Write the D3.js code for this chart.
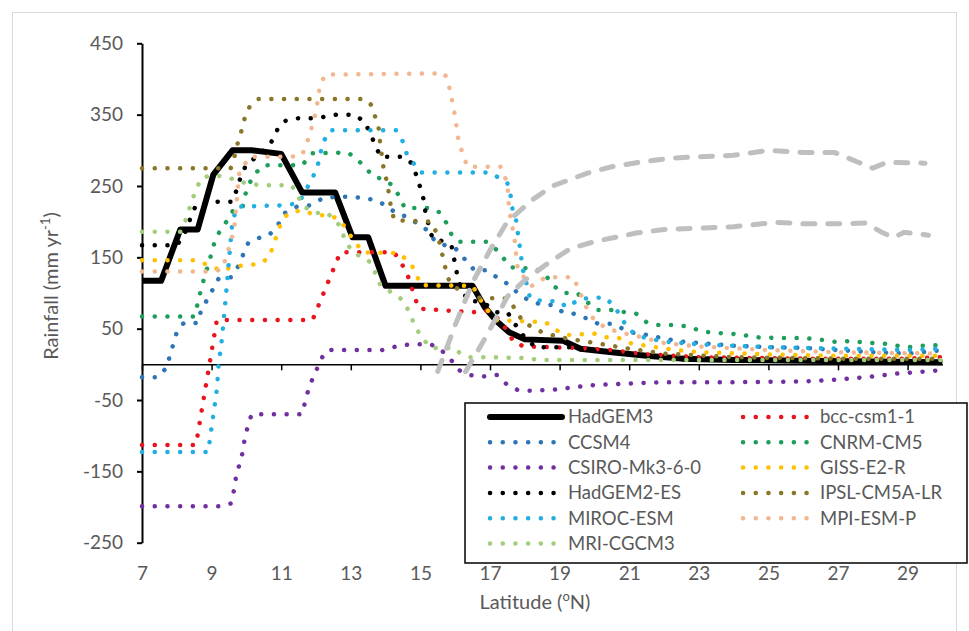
<!DOCTYPE html>
<html><head><meta charset="utf-8">
<script src="https://cdn.jsdelivr.net/npm/d3@7"></script>
<style>
html,body{margin:0;padding:0;background:#fff;}
svg{display:block;font-family:Lato,"Open Sans",sans-serif;}
</style></head>
<body>
<svg id="chart" width="969" height="631"></svg>
<script>
// ---------- data (latitude °N, rainfall mm/yr) ----------
const xTicks = [7,9,11,13,15,17,19,21,23,25,27,29];
const yTicks = [-250,-150,-50,50,150,250,350,450];

const HadGEM3 = [[7,117],[7.55,117],[8.1,189],[8.6,189],[9.05,266],[9.6,300],[10.15,300],[11.0,295],[11.6,241],[12.55,241],[13.05,178],[13.5,178],[14.0,110],[16.5,110],[16.85,80],[17.2,60],[17.55,45],[18.0,35],[19.1,33],[19.6,22],[20.5,17],[21.5,12],[22.5,8],[24,6],[26,5],[28,4],[30,3]];
const bcc = [[7,-113],[8.55,-113],[9.15,62],[11.9,62],[12.7,157],[14.25,157],[14.6,130],[14.95,78],[16.5,73],[16.9,75],[17.3,62],[17.7,30],[18,25],[19.5,23],[20.5,20],[21.5,14],[23,10],[26,8],[29,8],[30,10]];
const CCSM4 = [[7,-18],[7.45,-18],[7.7,-5],[8.0,45],[8.2,58],[8.6,58],[8.7,76],[8.9,93],[9.2,120],[9.55,122],[9.75,136],[9.9,153],[10.05,170],[10.35,177],[10.65,181],[10.9,195],[11.1,212],[11.45,221],[11.85,223],[12.2,233],[12.6,235],[13.0,235],[13.4,233],[13.7,230],[14.0,223],[14.3,212],[14.6,207],[14.9,198],[15.2,188],[15.4,174],[15.7,167],[16.0,163],[16.3,146],[16.55,132],[16.9,132],[17.2,122],[17.5,113],[17.8,100],[18.1,90],[18.4,85],[18.8,83],[19.1,73],[19.4,71],[19.8,64],[20.1,57],[20.5,57],[20.9,48],[21.2,43],[21.6,41],[21.9,37],[22.5,32],[23,30],[24,26],[25,24],[26,23],[27,20],[28,17],[29,15],[30,20]];
const CNRM = [[7,67],[8.5,67],[8.6,85],[8.7,106],[8.8,123],[8.9,139],[9.0,156],[9.1,174],[9.25,188],[9.5,205],[9.65,219],[9.9,222],[10.0,244],[10.2,265],[10.5,279],[11.6,279],[11.9,296],[12.9,297],[13.1,291],[13.4,277],[13.65,263],[13.9,260],[14.2,251],[14.4,235],[14.55,219],[15.3,219],[15.55,213],[15.75,198],[15.9,181],[16.1,172],[16.9,172],[17.2,160],[17.6,136],[18.3,134],[18.6,125],[18.8,111],[19.1,100],[19.5,100],[19.8,87],[20.1,76],[20.5,76],[20.9,73],[21.2,71],[21.5,59],[21.8,55],[22.3,55],[22.7,53],[23.1,46],[23.5,44],[24.2,42],[24.6,38],[25.2,37],[26.0,37],[26.6,34],[27.0,31],[27.4,33],[27.8,30],[28.2,30],[28.6,27],[29.0,24],[29.4,26],[30,27]];
const CSIRO = [[7,-199],[9.3,-199],[9.55,-195],[9.65,-175],[9.7,-158],[9.8,-140],[9.9,-122],[9.95,-104],[10.05,-85],[10.15,-70],[11.6,-70],[11.7,-50],[11.8,-32],[11.95,-15],[12.1,2],[12.25,17],[12.4,20],[13.9,20],[14.3,25],[14.7,28],[15.3,28],[15.6,20],[15.9,5],[16.1,-8],[16.4,-15],[16.8,-17],[17.2,-15],[17.5,-29],[17.8,-36],[18.2,-37],[19,-35],[19.4,-32],[20,-29],[21,-27],[22,-25],[24,-25],[26,-24],[26.8,-22],[27.8,-18],[28.7,-13],[29.5,-10],[30,-8]];
const GISS = [[7,146],[8.55,146],[8.9,139],[9.3,131],[9.6,137],[10.0,139],[10.4,141],[10.65,150],[10.8,170],[10.9,186],[11.05,204],[11.25,213],[11.6,216],[12,209],[12.4,209],[12.7,202],[12.95,183],[13.15,170],[13.35,157],[14.4,156],[14.75,139],[14.9,125],[15.0,111],[16.5,110],[16.85,80],[17.2,62],[18.6,59],[18.9,48],[19.2,41],[20.0,43],[20.3,38],[20.7,37],[21.0,30],[22,22],[23,17],[25,14],[27,12],[30,12]];
const HadGEM2 = [[7,167],[8.0,167],[8.2,180],[8.4,206],[8.55,223],[8.9,228],[9.6,228],[9.75,249],[9.85,265],[10.0,280],[10.4,295],[10.7,310],[10.9,330],[11.1,341],[11.5,345],[12.0,345],[12.6,350],[13.1,350],[13.4,340],[13.55,324],[13.7,308],[13.85,291],[14.5,291],[14.75,282],[14.9,263],[15.0,247],[15.1,230],[15.15,211],[15.25,193],[15.35,176],[15.7,172],[15.9,165],[16.0,140],[16.1,115],[16.35,90],[16.8,87],[17.0,80],[17.2,73],[17.5,73],[17.9,43],[18.3,24],[19.4,24],[19.7,20],[20.5,17],[21.5,12],[23,8],[25,6],[28,4],[30,3]];
const IPSL = [[7,275],[9.55,275],[9.65,290],[9.75,310],[9.85,326],[9.95,345],[10.1,362],[10.35,372],[13.4,372],[13.6,363],[13.8,331],[13.85,307],[13.95,272],[14.05,254],[14.15,221],[14.25,202],[15.3,200],[15.5,181],[15.6,160],[15.75,128],[15.85,114],[16.2,101],[16.4,94],[17.5,92],[17.75,76],[17.95,59],[18.5,45],[19,38],[20,30],[21,22],[22,15],[24,10],[27,8],[30,8]];
const MIROC = [[7,-123],[8.9,-123],[9.15,-36],[9.2,-1],[9.3,37],[9.4,90],[9.5,146],[9.6,202],[9.75,221],[11.1,223],[11.5,226],[11.9,261],[12.05,279],[12.2,311],[12.4,328],[14.3,328],[14.5,312],[14.6,296],[14.8,282],[15.0,269],[17.0,269],[17.5,254],[17.6,235],[17.65,216],[17.75,202],[17.8,184],[17.85,167],[17.9,149],[17.95,132],[18.05,113],[18.15,93],[18.3,90],[19.0,88],[19.2,80],[19.6,92],[20.3,94],[20.6,80],[20.8,62],[21.1,45],[21.4,38],[22,32],[23,28],[25,24],[27,22],[29,20],[30,22]];
const MPI = [[7,130],[9.0,130],[9.3,133],[9.5,163],[9.65,190],[9.75,244],[9.8,270],[10.1,291],[11.3,291],[11.6,293],[11.8,319],[12.0,354],[12.1,387],[12.25,406],[15.7,408],[15.85,385],[16.0,347],[16.1,312],[16.25,291],[16.35,277],[17.3,277],[17.5,254],[17.55,216],[17.7,178],[17.8,132],[18.2,110],[18.6,122],[19.4,122],[19.8,76],[20.0,62],[20.3,52],[20.7,45],[21.2,40],[22,30],[23,25],[25,20],[27,17],[30,15]];
const MRI = [[7,186],[8.1,186],[8.3,207],[8.4,225],[8.55,244],[8.7,261],[9.0,265],[9.4,263],[9.9,255],[10.4,251],[11.3,251],[11.5,235],[11.6,223],[11.95,212],[12.3,213],[12.55,202],[12.7,193],[12.8,179],[12.95,165],[13.1,155],[13.4,150],[13.6,141],[13.75,122],[13.85,111],[14.5,90],[14.65,76],[14.8,59],[15.0,40],[15.3,23],[16.0,23],[16.1,17],[16.4,10],[17.0,10],[17.9,9],[18.5,6],[30,6]];
const greyUpper = [[15.5,-10],[16.0,55],[16.5,115],[17,160],[17.5,200],[18.2,230],[18.8,250],[19.8,268],[20.5,277],[21.4,284],[22.2,289],[23,291],[24,293],[25,300],[26,297],[26.9,297],[27.6,283],[28,275],[28.4,283],[29.5,282]];
const greyLower = [[16.3,-10],[16.9,40],[17.5,95],[18.0,118],[18.7,143],[19.3,162],[20.0,172],[20.5,177],[21.2,184],[22,189],[23,191],[24,193],[25.2,199],[26,197],[27,197],[27.8,198],[28.3,184],[28.6,178],[28.9,185],[29.6,181]];

const seriesNames = ["HadGEM3","bcc-csm1-1","CCSM4","CNRM-CM5","CSIRO-Mk3-6-0","GISS-E2-R","HadGEM2-ES","IPSL-CM5A-LR","MIROC-ESM","MPI-ESM-P","MRI-CGCM3"];
const seriesData = [HadGEM3,bcc,CCSM4,CNRM,CSIRO,GISS,HadGEM2,IPSL,MIROC,MPI,MRI];
const seriesColors = ["#000000","#E8141E","#2E75B6","#1F9E5B","#7030A0","#FFC000","#000000","#8A7628","#22AEE0","#F2B791","#A2CD7C"];

// ---------- drawing ----------
const svg = d3.select("#chart");
svg.append("rect").attr("x",12.5).attr("y",12.5).attr("width",944).attr("height",640)
  .attr("fill","#fff").attr("stroke","#D9D9D9").attr("stroke-width",1);

const x = d3.scaleLinear().domain([7,30]).range([142,942.4]);
const y = d3.scaleLinear().domain([-250,450]).range([542.7,43.3]);
const line = d3.line().x(d=>x(d[0])).y(d=>y(d[1]));
const fmt = d => String(d);

// y axis
const yAx = svg.append("g").attr("transform","translate(142,0)")
  .call(d3.axisLeft(y).tickValues(yTicks).tickSizeInner(5).tickSizeOuter(0).tickPadding(14).tickFormat(fmt));
yAx.select(".domain").attr("stroke","#000").attr("stroke-width",2);
yAx.selectAll(".tick line").attr("stroke","#000").attr("stroke-width",2);
yAx.selectAll("text").attr("fill","#595959").style("font-size","19px").style("font-family","Lato");

// zero line with ticks
const xAx = svg.append("g").attr("transform",`translate(0,${y(0)})`)
  .call(d3.axisBottom(x).tickValues(xTicks).tickSizeInner(6).tickSizeOuter(0).tickFormat(""));
xAx.select(".domain").attr("stroke","#000").attr("stroke-width",1.5);
xAx.selectAll(".tick line").attr("stroke","#000").attr("stroke-width",1.5);

// x tick labels at bottom
const xLab = svg.append("g").attr("transform","translate(0,573)")
  .call(d3.axisBottom(x).tickValues(xTicks).tickSize(0).tickPadding(0).tickFormat(fmt));
xLab.select(".domain").remove();
xLab.selectAll("text").attr("dy","0.35em").attr("fill","#595959").style("font-size","19px").style("font-family","Lato");

// axis titles
svg.append("text").attr("transform","translate(58,286) rotate(-90)")
  .attr("text-anchor","middle").attr("fill","#595959").style("font-size","20px")
  .call(t=>{ t.append("tspan").text("Rainfall (mm yr");
             t.append("tspan").attr("dy",-8).style("font-size","13px").text("-1");
             t.append("tspan").attr("dy",8).text(")"); });
svg.append("text").attr("x",535).attr("y",609).attr("text-anchor","middle")
  .attr("fill","#595959").style("font-size","20px")
  .call(t=>{ t.append("tspan").text("Latitude (");
             t.append("tspan").attr("dy",-8).style("font-size","13px").text("o");
             t.append("tspan").attr("dy",8).text("N)"); });

// series
const plot = svg.append("g");
seriesData.forEach((data,i)=>{
  const p = plot.append("path").datum(data).attr("d",line).attr("fill","none")
    .attr("stroke",seriesColors[i]).attr("stroke-linejoin","round");
  if(i===0){ p.attr("stroke-width",6); }
  else { p.attr("stroke-width",4.5).attr("stroke-linecap","round").attr("stroke-dasharray","0.1,12.6"); }
});
// grey dashed
[greyUpper,greyLower].forEach(data=>{
  plot.append("path").datum(data).attr("d",line).attr("fill","none")
    .attr("stroke","#BFBFBF").attr("stroke-width",5).attr("stroke-linecap","round")
    .attr("stroke-dasharray","12,13");
});

// legend
const lg = svg.append("g");
lg.append("rect").attr("x",465).attr("y",403).attr("width",502).attr("height",160)
  .attr("fill","#fff").attr("stroke","#000").attr("stroke-width",1.5);
seriesNames.forEach((n,i)=>{
  const col = i%2, row = Math.floor(i/2);
  const cy = 417 + row*25.3;
  const x0 = col===0 ? 490 : 743, x1 = col===0 ? 562 : 811, tx = col===0 ? 568 : 820;
  const l = lg.append("line").attr("x1",x0).attr("x2",x1).attr("y1",cy).attr("y2",cy)
    .attr("stroke",seriesColors[i]);
  if(i===0) l.attr("stroke-width",6).attr("stroke-linecap","round");
  else l.attr("stroke-width",4.5).attr("stroke-linecap","round").attr("stroke-dasharray","0.1,12.6");
  lg.append("text").attr("x",tx).attr("y",cy).attr("dy","0.35em").attr("fill","#595959")
    .style("font-size","18.5px").text(n);
});
</script>
</body></html>
